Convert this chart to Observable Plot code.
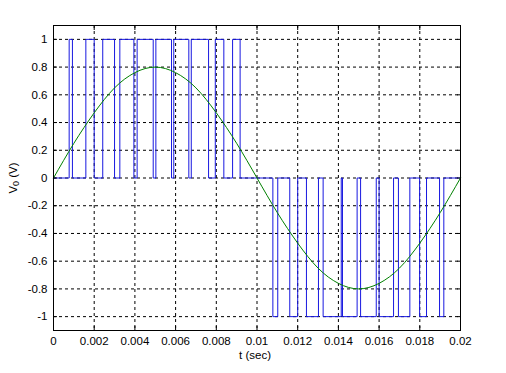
<!DOCTYPE html>
<html>
<head>
<meta charset="utf-8">
<script src="https://cdn.jsdelivr.net/npm/d3@7"></script>
<script src="https://cdn.jsdelivr.net/npm/@observablehq/plot@0.6"></script>
<style>
  html, body { margin: 0; padding: 0; background: #ffffff; }
  #chart { width: 506px; height: 373px; }
</style>
</head>
<body>
<div id="chart"></div>
<script>
// Tick values
const xTicks = [0, 0.002, 0.004, 0.006, 0.008, 0.01, 0.012, 0.014, 0.016, 0.018, 0.02];
const yTicks = [-1, -0.8, -0.6, -0.4, -0.2, 0, 0.2, 0.4, 0.6, 0.8, 1];

// PWM output: positive half-cycle pulse edges (sec), level +1
const posRise = [0.00077, 0.00159, 0.00242, 0.00326, 0.00411, 0.00503, 0.00591, 0.00677, 0.00795, 0.00880];
const posFall = [0.00093, 0.00200, 0.00300, 0.00395, 0.00490, 0.00580, 0.00665, 0.00762, 0.00837, 0.00917];
// negative half-cycle pulse edges (sec), level -1
const negFall = [0.01078, 0.01161, 0.01243, 0.01325, 0.01420, 0.01509, 0.01600, 0.01695, 0.01799, 0.01897];
const negRise = [0.01102, 0.01200, 0.01302, 0.01414, 0.01492, 0.01586, 0.01671, 0.01751, 0.01833, 0.01918];

// Reference (modulating) wave
const sineT = [0, 0.001, 0.002, 0.003, 0.004, 0.005, 0.006, 0.007, 0.008, 0.009, 0.01,
               0.011, 0.012, 0.013, 0.014, 0.015, 0.016, 0.017, 0.018, 0.019, 0.02];
const sineV = [0, 0.25, 0.47, 0.65, 0.76, 0.80, 0.76, 0.65, 0.47, 0.25, 0,
               -0.25, -0.47, -0.65, -0.76, -0.80, -0.76, -0.65, -0.47, -0.25, 0];

// Build tables
const pulse = [{t: 0, v: 0}];
posRise.forEach((r, i) => { pulse.push({t: r, v: 1}); pulse.push({t: posFall[i], v: 0}); });
negFall.forEach((f, i) => { pulse.push({t: f, v: -1}); pulse.push({t: negRise[i], v: 0}); });
pulse.push({t: 0.02, v: 0});
const sine = sineT.map((t, i) => ({t, v: sineV[i]}));

const fmt = d => String(+d.toFixed(3));
const gridStyle = {stroke: "#000", strokeOpacity: 1, strokeWidth: 1, strokeDasharray: "3,3"};
const FONT = "Arial, 'Liberation Sans', sans-serif";

const chart = Plot.plot({
  width: 506,
  height: 373,
  marginLeft: 53,
  marginRight: 46,
  marginTop: 25,
  marginBottom: 43,
  style: {fontFamily: FONT, fontSize: "11.5px", background: "#ffffff", color: "#000"},
  x: {domain: [0, 0.02]},
  y: {domain: [-1.1, 1.1]},
  marks: [
    Plot.ruleX(xTicks.slice(1, -1), {...gridStyle}),
    Plot.ruleY(yTicks, {...gridStyle}),
    Plot.line(pulse, {x: "t", y: "v", curve: "step-after", stroke: "#1818e0", strokeWidth: 1}),
    Plot.line(sine, {x: "t", y: "v", curve: "natural", stroke: "#008000", strokeWidth: 1}),
    Plot.frame({stroke: "#000", strokeWidth: 1}),
    Plot.axisX({anchor: "bottom", ticks: xTicks, tickSize: -4, tickPadding: 10, tickFormat: fmt, label: null, fontSize: 11.5}),
    Plot.axisX({anchor: "top", ticks: xTicks, tickSize: -4, tickFormat: () => "", label: null}),
    Plot.axisY({anchor: "left", ticks: yTicks, tickSize: -4, tickPadding: 10, tickFormat: fmt, label: null, fontSize: 11.5}),
    Plot.axisY({anchor: "right", ticks: yTicks, tickSize: -4, tickFormat: () => "", label: null})
  ]
});

const svg = d3.select(chart);
svg.append("text")
  .attr("x", 255).attr("y", 359)
  .attr("text-anchor", "middle")
  .attr("font-family", FONT)
  .attr("font-size", 11.5)
  .text("t (sec)");
const yl = svg.append("text")
  .attr("transform", "translate(17,178) rotate(-90)")
  .attr("text-anchor", "middle")
  .attr("font-family", FONT)
  .attr("font-size", 11.5);
yl.append("tspan").text("V");
yl.append("tspan").attr("font-size", 9).attr("dy", 2).text("0");
yl.append("tspan").attr("dy", -2).text(" (V)");

document.getElementById("chart").appendChild(chart);
</script>
</body>
</html>
